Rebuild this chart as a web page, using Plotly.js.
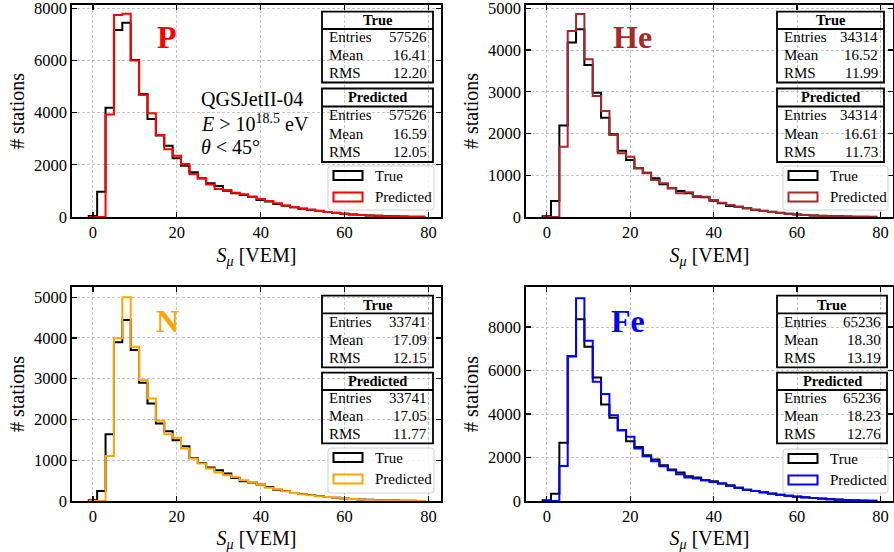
<!DOCTYPE html>
<html>
<head>
<meta charset="utf-8">
<script src="https://cdn.plot.ly/plotly-3.0.1.min.js"></script>
<style>html,body{margin:0;padding:0;background:#fff;}#chart{width:894px;height:552px;}</style>
</head>
<body>
<div id="chart"></div>
<script>
// ---- data ----
const binCenters = [0,2,4,6,8,10,12,14,16,18,20,22,24,26,28,30,32,34,36,38,40,42,44,46,48,50,52,54,56,58,60,62,64,66,68,70,72,74,76,78];

const pTrue  = [40,970,4190,7170,7450,6020,4715,3757,3130,2735,2250,1968,1712,1482,1290,1190,1010,907,843,780,650,590,500,435,370,320,275,235,195,160,125,100,80,62,48,36,26,18,12,8];
const pPred  = [0,0,3935,7745,7790,6000,4680,3975,3140,2595,2350,2030,1650,1480,1250,1075,1035,930,870,780,690,610,525,440,375,325,275,230,190,155,120,95,75,58,44,33,24,16,10,6];

const heTrue = [20,383,2190,4180,4500,3643,2980,2380,1980,1590,1366,1166,1063,927,783,687,623,567,487,471,391,327,264,248,208,175,150,125,100,80,62,48,36,27,20,15,11,8,5,3];
const hePred = [0,0,1686,4458,4866,3779,2900,2540,1966,1526,1446,1166,1047,887,807,687,567,591,503,487,407,343,288,248,208,172,145,120,97,78,60,46,34,25,18,13,9,6,4,2];

const nTrue  = [16,246,1640,3894,4443,3705,2902,2394,1902,1713,1492,1344,1057,934,820,754,672,566,484,451,402,344,279,246,197,170,145,120,98,80,64,50,38,28,20,14,10,7,4,2];
const nPred  = [0,0,1107,3992,5000,3787,2967,2516,1967,1640,1549,1287,1041,918,795,697,631,590,508,467,410,328,287,238,197,168,142,118,96,78,62,48,36,26,19,13,9,6,4,2];

const feTrue = [30,338,2673,6650,8356,7096,5683,4439,3825,3256,2749,2488,2104,1905,1643,1444,1306,1137,1075,952,906,799,722,614,522,460,400,340,290,245,205,170,140,110,85,65,45,30,18,10];
const fePred = [0,0,1613,6666,9324,7373,5484,4915,3948,3256,2949,2412,2058,1828,1597,1413,1229,1075,1029,952,876,799,691,614,522,455,395,335,285,240,200,165,135,105,82,62,43,28,17,9];

const panelLabels = ["P","He","N","Fe"];
const statRowLabels = ["Entries","Mean","RMS"];
const trueStats = [["57526","16.41","12.20"],["34314","16.52","11.99"],["33741","17.09","12.15"],["65236","18.30","13.19"]];
const predStats = [["57526","16.59","12.05"],["34314","16.61","11.73"],["33741","17.05","11.77"],["65236","18.23","12.76"]];
const legendLabels = ["True","Predicted"];
const xTicks = [0,20,40,60,80];
const yTicksP  = [0,2000,4000,6000,8000];
const yTicksHe = [0,1000,2000,3000,4000,5000];
const yTicksN  = [0,1000,2000,3000,4000,5000];
const yTicksFe = [0,2000,4000,6000,8000];
const infoLines = ["QGSJetII-04", "<i>E</i> > 10<sup>18.5</sup> eV", "<i>θ</i> < 45°"];

// ---- layout geometry (pixels) ----
const W = 894, H = 552;
const fx = p => p / W;
const fy = p => 1 - p / H;
const FONT = "Liberation Serif, Times New Roman, serif";

const panels = [
  {trueV:pTrue, predV:pPred, yt:yTicksP, ymax:8130, color:"#ff0000", L:72, R:441, T:5, B:217,
   box:{L:322,R:433,t1:11.7,d1:29,b1:82.5,t2:88.5,d2:106.5,b2:162}, leg:{L:328,R:434,T:166,B:210}, lab:{x:167,y:37}},
  {trueV:heTrue, predV:hePred, yt:yTicksHe, ymax:5080, color:"#a52a2a", L:526, R:893, T:5, B:217,
   box:{L:777,R:884,t1:11.7,d1:29,b1:82.5,t2:88.5,d2:106.5,b2:162}, leg:{L:783,R:888,T:166,B:210}, lab:{x:632,y:37}},
  {trueV:nTrue, predV:nPred, yt:yTicksN, ymax:5250, color:"#ffa500", L:72, R:441, T:287, B:501,
   box:{L:322,R:433,t1:295.7,d1:313.3,b1:367.3,t2:372.7,d2:390,b2:443.3}, leg:{L:328,R:434,T:448,B:493}, lab:{x:167,y:321}},
  {trueV:feTrue, predV:fePred, yt:yTicksFe, ymax:9840, color:"#0000ff", L:526, R:893, T:287, B:501,
   box:{L:777,R:887,t1:295.7,d1:313.3,b1:367.3,t2:372.7,d2:390,b2:443.3}, leg:{L:783,R:888,T:449,B:493}, lab:{x:628,y:321}}
];

function stepXY(centers, vals) {
  const half = (centers[1] - centers[0]) / 2;
  const n = centers.length;
  const xs = [centers[0] - half], ys = [0];
  for (let i = 0; i < n; i++) { xs.push(centers[i] - half); ys.push(vals[i]); }
  xs.push(centers[n-1] + half); ys.push(vals[n-1]);
  xs.push(centers[n-1] + half); ys.push(0);
  return {xs, ys};
}

const traces = [];
const shapes = [];
const annotations = [];
const layout = {
  width: W, height: H,
  margin: {l:0, r:0, t:0, b:0},
  paper_bgcolor: "#ffffff", plot_bgcolor: "#ffffff",
  showlegend: false,
  font: {family: FONT, color: "#000", size: 16}
};

function rr(L, T, R, B, r) {
  const x0 = fx(L), x1 = fx(R), y0 = fy(B), y1 = fy(T);
  const rx = r / W, ry = r / H;
  return `M ${x0+rx},${y1} L ${x1-rx},${y1} Q ${x1},${y1} ${x1},${y1-ry} L ${x1},${y0+ry} Q ${x1},${y0} ${x1-rx},${y0} L ${x0+rx},${y0} Q ${x0},${y0} ${x0},${y0+ry} L ${x0},${y1-ry} Q ${x0},${y1} ${x0+rx},${y1} Z`;
}

panels.forEach((p, i) => {
  const k = i === 0 ? "" : String(i + 1);
  const xa = "x" + k, ya = "y" + k;
  const sT = stepXY(binCenters, p.trueV);
  const sP = stepXY(binCenters, p.predV);
  traces.push({type:"scatter", mode:"lines", x:sT.xs, y:sT.ys, xaxis:xa, yaxis:ya,
    line:{shape:"hv", color:"#000000", width:2}, name:legendLabels[0], hoverinfo:"skip"});
  traces.push({type:"scatter", mode:"lines", x:sP.xs, y:sP.ys, xaxis:xa, yaxis:ya,
    line:{shape:"hv", color:p.color, width:2}, name:legendLabels[1], hoverinfo:"skip"});

  const common = {
    showline:true, linecolor:"#000", linewidth:1.6, mirror:"ticks",
    ticks:"inside", ticklen:5, tickwidth:1.2, tickcolor:"#000",
    showgrid:true, gridcolor:"#b8b8b8", gridwidth:0.8, griddash:"3px,2px",
    zeroline:false, ticklabeloverflow:"allow",
    tickfont:{family:FONT, size:16.5, color:"#000"}
  };
  layout["xaxis" + k] = Object.assign({}, common, {
    domain:[fx(p.L), fx(p.R)], anchor:ya, range:[-5, 83],
    tickmode:"array", tickvals:xTicks, ticktext:xTicks.map(String),
    title:{text:"<i>S</i><sub><i>μ</i></sub> [VEM]", font:{family:FONT, size:20, color:"#000"}, standoff:6}
  });
  layout["yaxis" + k] = Object.assign({}, common, {
    domain:[fy(p.B), fy(p.T)], anchor:xa, range:[0, p.ymax],
    tickmode:"array", tickvals:p.yt, ticktext:p.yt.map(String),
    title:{text:"# stations", font:{family:FONT, size:20, color:"#000"}, standoff:4}
  });

  annotations.push({xref:"paper", yref:"paper", x:fx(p.lab.x), y:fy(p.lab.y), xanchor:"center", yanchor:"middle",
    text:"<b>" + panelLabels[i] + "</b>", showarrow:false, font:{family:FONT, size:32, color:p.color}});

  const b = p.box;
  [[b.t1,b.d1,b.b1,"True",trueStats[i]],[b.t2,b.d2,b.b2,"Predicted",predStats[i]]].forEach(([t,d,bt,hdr,vals]) => {
    shapes.push({type:"rect", xref:"paper", yref:"paper", x0:fx(b.L), x1:fx(b.R), y0:fy(bt), y1:fy(t),
      line:{color:"#000", width:1.8}, fillcolor:"rgba(0,0,0,0)", layer:"above"});
    shapes.push({type:"line", xref:"paper", yref:"paper", x0:fx(b.L), x1:fx(b.R), y0:fy(d), y1:fy(d),
      line:{color:"#000", width:1.8}, layer:"above"});
    annotations.push({xref:"paper", yref:"paper", x:fx((b.L+b.R)/2), y:fy((t+d)/2), xanchor:"center", yanchor:"middle",
      text:"<b>" + hdr + "</b>", showarrow:false, font:{family:FONT, size:14.5, color:"#000"}});
    const rh = (bt - d) / 3;
    statRowLabels.forEach((lbl, r) => {
      const yc = d + rh * (r + 0.5) - 0.5;
      annotations.push({xref:"paper", yref:"paper", x:fx(b.L + 5), y:fy(yc), xanchor:"left", yanchor:"middle",
        text:lbl, showarrow:false, font:{family:FONT, size:15, color:"#000"}});
      annotations.push({xref:"paper", yref:"paper", x:fx(b.R - 4), y:fy(yc), xanchor:"right", yanchor:"middle",
        text:vals[r], showarrow:false, font:{family:FONT, size:15, color:"#000"}});
    });
  });

  const g = p.leg;
  shapes.push({type:"path", xref:"paper", yref:"paper", path:rr(g.L, g.T, g.R, g.B, 3),
    line:{color:"#d0d0d0", width:1}, fillcolor:"rgba(255,255,255,0.8)", layer:"above"});
  const rowsY = [g.T + 9.5, g.T + 31];
  [["#000000", legendLabels[0]], [p.color, legendLabels[1]]].forEach(([c, txt], r) => {
    shapes.push({type:"rect", xref:"paper", yref:"paper", x0:fx(g.L + 5.5), x1:fx(g.L + 34.5),
      y0:fy(rowsY[r] + 4.5), y1:fy(rowsY[r] - 4.5), line:{color:c, width:2}, fillcolor:"rgba(0,0,0,0)", layer:"above"});
    annotations.push({xref:"paper", yref:"paper", x:fx(g.L + 45), y:fy(rowsY[r]), xanchor:"left", yanchor:"middle",
      text:txt, showarrow:false, font:{family:FONT, size:15, color:"#000"}});
  });
});

const infoY = [99, 123, 147];
infoLines.forEach((t, j) => {
  annotations.push({xref:"paper", yref:"paper", x:fx(199), y:fy(infoY[j]), xanchor:"left", yanchor:"middle",
    text:t, showarrow:false, font:{family:FONT, size:20, color:"#000"}});
});

layout.shapes = shapes;
layout.annotations = annotations;

Plotly.newPlot("chart", traces, layout, {staticPlot:true, displayModeBar:false});
</script>
</body>
</html>
